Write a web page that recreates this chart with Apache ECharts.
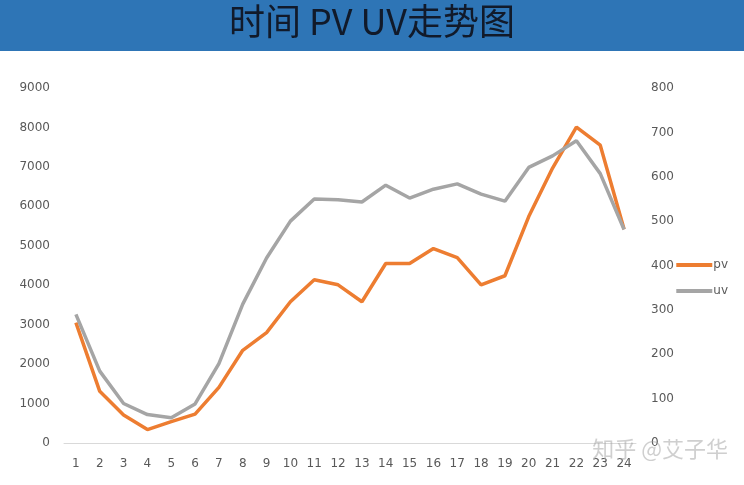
<!DOCTYPE html>
<html><head><meta charset="utf-8">
<script src="https://cdn.jsdelivr.net/npm/echarts@6/dist/echarts.min.js"></script>
<style>html,body{margin:0;padding:0;background:#fff}#c{width:744px;height:485px}</style>
</head><body><div id="c"></div>
<script>
const titleText = '时间 PV UV走势图';
const categories = ['1','2','3','4','5','6','7','8','9','10','11','12','13','14','15','16','17','18','19','20','21','22','23','24'];
const pvValues = [3050,1310,710,340,540,730,1410,2350,2800,3580,4140,4010,3580,4550,4550,4930,4700,4010,4240,5740,6970,8010,7550,5420];
const uvValues = [290,162,89,64,57,88,179,313,417,500,550,548,543,581,552,572,584,561,545,621,647,681,607,481];
const leftTicks = {min:0, max:9000, interval:1000};
const rightTicks = {min:0, max:800, interval:100};

const chart = echarts.init(document.getElementById('c'), null, {renderer:'canvas'});
const labelStyle = {color:'#595959', fontSize:12, fontFamily:'"DejaVu Sans", sans-serif'};
chart.setOption({
  animation:false,
  graphic:[
    {type:'rect', left:0, top:0, shape:{width:744, height:51}, style:{fill:'#2E75B6'}, z:-1},
    {type:'text', left:'center', top:3, style:{text:titleText, fill:'#111a2a', font:'36px "Noto Sans CJK SC", sans-serif'}},
    {type:'text', right:16, top:438, style:{text:'知乎 @艾子华', fill:'rgba(160,160,160,0.5)', font:'22px "Noto Sans CJK SC", sans-serif'}, z:100}
  ],
  grid:{left:64, right:108, top:88, bottom:42},
  legend:{
    orient:'vertical', right:11, top:254, itemGap:14, itemWidth:36, itemHeight:4,
    icon:'rect',
    textStyle:{color:'#595959', fontSize:12, fontFamily:'"DejaVu Sans", sans-serif', padding:[0,0,0,-4]},
    data:['pv','uv']
  },
  xAxis:{
    type:'category', data:categories, boundaryGap:true,
    axisLine:{lineStyle:{color:'#d9d9d9'}}, axisTick:{show:false},
    axisLabel:Object.assign({margin:15}, labelStyle)
  },
  yAxis:[
    {type:'value', min:leftTicks.min, max:leftTicks.max, interval:leftTicks.interval,
     axisLine:{show:false}, axisTick:{show:false}, splitLine:{show:false},
     axisLabel:Object.assign({margin:14, formatter:v => String(v)}, labelStyle)},
    {type:'value', min:rightTicks.min, max:rightTicks.max, interval:rightTicks.interval,
     axisLine:{show:false}, axisTick:{show:false}, splitLine:{show:false},
     axisLabel:Object.assign({margin:15, formatter:v => String(v)}, labelStyle)}
  ],
  series:[
    {name:'pv', type:'line', data:pvValues, yAxisIndex:0, symbol:'none',
     lineStyle:{color:'#ED7D31', width:3.5}, itemStyle:{color:'#ED7D31'}},
    {name:'uv', type:'line', data:uvValues, yAxisIndex:1, symbol:'none',
     lineStyle:{color:'#A5A5A5', width:3.5}, itemStyle:{color:'#A5A5A5'}}
  ]
});
</script></body></html>
